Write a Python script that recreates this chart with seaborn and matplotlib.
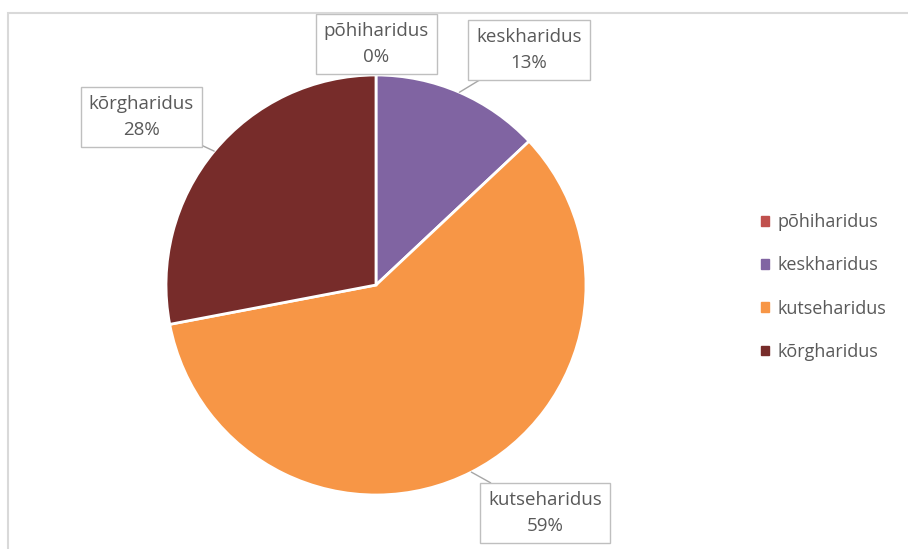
import numpy as np
import matplotlib
matplotlib.use("Agg")
import matplotlib.pyplot as plt
import matplotlib.patches as mpatches
import seaborn as sns

# ── Data ──────────────────────────────────────────────────────────────────────
categories = ["põhiharidus", "keskharidus", "kutseharidus", "kõrgharidus"]
shares     = [0.0, 13.0, 59.0, 28.0]
colors     = ["#C0504D", "#8064A2", "#F79646", "#772C2A"]

# label box centres (pie radius units)
label_pos = {
    "põhiharidus":  (0.0, 1.148),
    "keskharidus":  (0.729, 1.119),
    "kutseharidus": (0.805, -1.086),
    "kõrgharidus":  (-1.119, 0.80),
}

sns.set_theme(style="white")
plt.rcParams["font.family"] = ["Open Sans", "DejaVu Sans"]
TEXT = "#595959"

W, H = 908, 549
fig = plt.figure(figsize=(W / 100, H / 100), dpi=100)

# light chart-area frame (runs off the right and bottom edges)
fig.patches.append(mpatches.Rectangle(
    (8 / W, -0.05), 1.1, (H - 13) / H + 0.05, transform=fig.transFigure,
    fill=False, edgecolor="#D9D9D9", linewidth=1.5))

# pie axes: centre (376, 285) px, radius 210 px
cx, cy, r = 376, 285, 210
ax = fig.add_axes([(cx - r) / W, (H - cy - r) / H, 2 * r / W, 2 * r / H])
wedges, _ = ax.pie(
    shares, colors=colors, startangle=90, counterclock=False, radius=1.0,
    wedgeprops=dict(edgecolor="white", linewidth=2),
)
ax.set_xlim(-1, 1)
ax.set_ylim(-1, 1)
ax.set_aspect("equal")
ax.axis("off")

# data labels with leader lines
total = sum(shares)
cum = 0.0
for cat, val in zip(categories, shares):
    mid = 90 - (cum + val / 2) / total * 360
    cum += val
    ex, ey = np.cos(np.radians(mid)), np.sin(np.radians(mid))
    tx, ty = label_pos[cat]
    ax.annotate(
        f"{cat}\n{val:.0f}%", xy=(ex, ey), xytext=(tx, ty),
        ha="center", va="center", fontsize=13.5, color=TEXT, linespacing=1.55,
        annotation_clip=False,
        bbox=dict(boxstyle="square,pad=0.42", facecolor="white",
                  edgecolor="#BFBFBF", linewidth=1),
        arrowprops=dict(arrowstyle="-", color="#A6A6A6", lw=1,
                        shrinkA=0, shrinkB=0) if val > 0 else None,
    )

# legend
handles = [mpatches.Patch(color=c, label=l) for c, l in zip(colors, categories)]
leg = fig.legend(
    handles=handles, loc="center left", bbox_to_anchor=(745 / W, 1 - 287 / H),
    frameon=False, fontsize=13, handlelength=0.45, handleheight=0.45,
    handletextpad=0.45, labelspacing=1.4,
)
for t in leg.get_texts():
    t.set_color(TEXT)

fig.savefig("out.png", dpi=100)
